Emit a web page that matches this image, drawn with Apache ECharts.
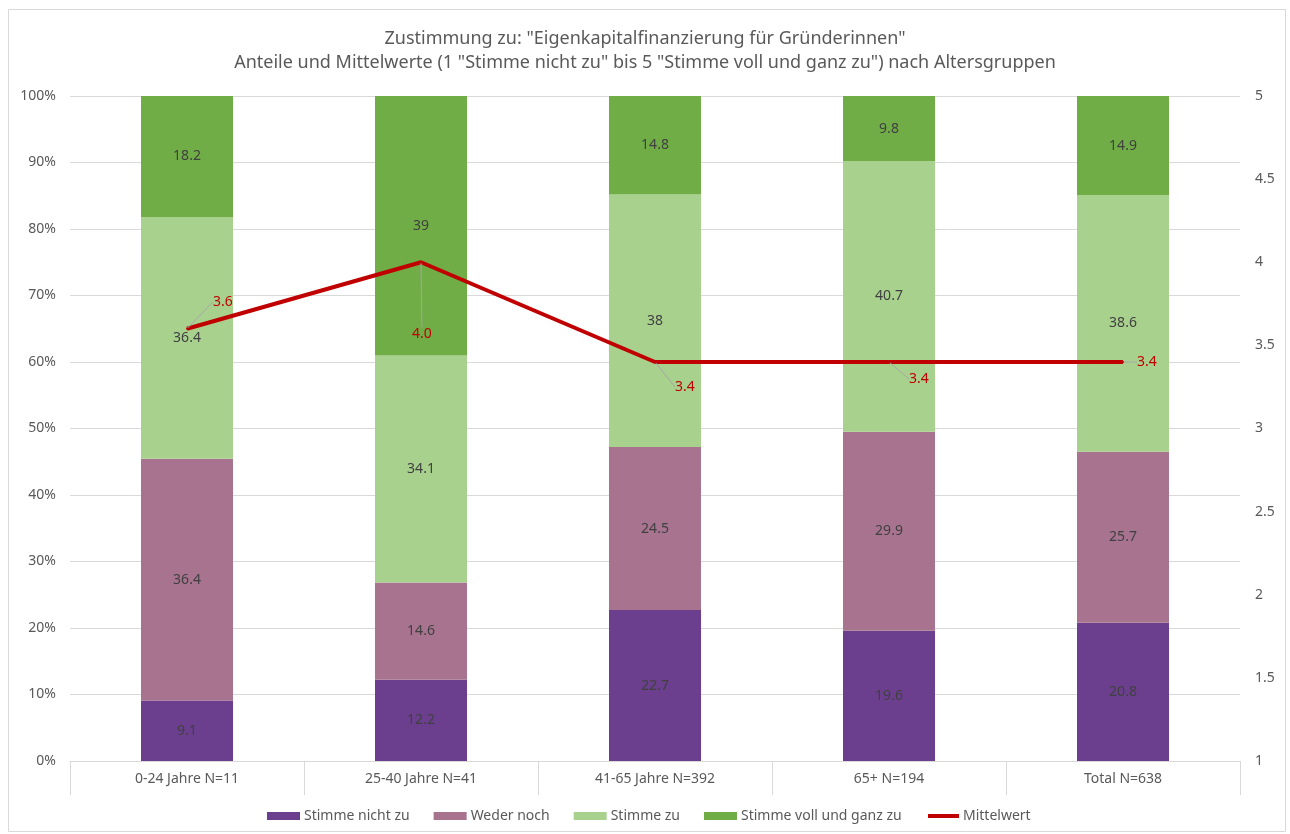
<!DOCTYPE html>
<html>
<head>
<meta charset="utf-8">
<script src="https://cdn.jsdelivr.net/npm/echarts@6/dist/echarts.min.js"></script>
<style>
html,body{margin:0;padding:0;background:#fff;}
#chart{width:1290px;height:834px;}
</style>
</head>
<body>
<div id="chart"></div>
<script>
const categories = ['0-24 Jahre N=11', '25-40 Jahre N=41', '41-65 Jahre N=392', '65+ N=194', 'Total N=638'];
const stimmeNichtZu = [9.1, 12.2, 22.7, 19.6, 20.8];
const wederNoch = [36.4, 14.6, 24.5, 29.9, 25.7];
const stimmeZu = [36.4, 34.1, 38, 40.7, 38.6];
const stimmeVollUndGanzZu = [18.2, 39, 14.8, 9.8, 14.9];
const mittelwert = [3.6, 4.0, 3.4, 3.4, 3.4];
const leftTicks = [0, 10, 20, 30, 40, 50, 60, 70, 80, 90, 100];
const rightTicks = [1, 1.5, 2, 2.5, 3, 3.5, 4, 4.5, 5];

const FONT = 'Noto Sans';
const GRAY = '#595959';
const labelShift = [[20, -27], [-15, 72], [14, 25], [14, 17], [8, 0]];

// 100% stacked: each column's shares are scaled so that the column sums to 100 (as in the original)
const totals = categories.map((_, i) => stimmeNichtZu[i] + wederNoch[i] + stimmeZu[i] + stimmeVollUndGanzZu[i]);

const chart = echarts.init(document.getElementById('chart'));

function barSeries(name, raw, color) {
  return {
    name: name, type: 'bar', stack: 'total', barWidth: 92,
    data: raw.map((v, i) => ({ value: v * 100 / totals[i], raw: v })),
    itemStyle: { color: color },
    label: {
      show: true, position: 'inside', color: '#404040', fontFamily: FONT, fontSize: 14,
      formatter: p => String(p.data.raw)
    },
    emphasis: { disabled: true }
  };
}

const legendText = { fontFamily: FONT, fontSize: 14, color: GRAY, padding: [0, 0, 0, -1] };

chart.setOption({
  animation: false,
  backgroundColor: '#fff',
  textStyle: { fontFamily: FONT },
  title: {
    text: 'Zustimmung zu: "Eigenkapitalfinanzierung für Gründerinnen"\nAnteile und Mittelwerte (1 "Stimme nicht zu" bis 5 "Stimme voll und ganz zu") nach Altersgruppen',
    left: 'center', top: 22,
    textStyle: { fontFamily: FONT, fontSize: 18, fontWeight: 'normal', color: GRAY, lineHeight: 24 }
  },
  graphic: [{
    type: 'rect', shape: { x: 8.5, y: 9.5, width: 1277, height: 822 },
    style: { fill: 'none', stroke: '#D9D9D9', lineWidth: 1 }, silent: true
  }],
  legend: [{
    data: ['Stimme nicht zu', 'Weder noch', 'Stimme zu', 'Stimme voll und ganz zu'],
    icon: 'rect', left: 267, top: 809, padding: 0,
    itemWidth: 33, itemHeight: 8, itemGap: 24, textStyle: legendText
  }, {
    data: ['Mittelwert'],
    icon: 'rect', left: 928, top: 809, padding: 0,
    itemWidth: 31, itemHeight: 4, textStyle: legendText
  }],
  grid: { left: 70, right: 50, top: 96, bottom: 73 },
  xAxis: {
    type: 'category', data: categories, boundaryGap: true,
    axisLine: { lineStyle: { color: '#D9D9D9' } },
    axisTick: { show: true, length: 34, interval: 0, lineStyle: { color: '#D9D9D9' } },
    axisLabel: { color: GRAY, fontFamily: FONT, fontSize: 14, margin: 11 }
  },
  yAxis: [{
    type: 'value', min: leftTicks[0], max: leftTicks[leftTicks.length - 1], interval: 10,
    axisLabel: { formatter: '{value}%', color: GRAY, fontFamily: FONT, fontSize: 14, margin: 14 },
    axisLine: { show: false }, axisTick: { show: false },
    splitLine: { lineStyle: { color: '#D9D9D9' } }
  }, {
    type: 'value', min: rightTicks[0], max: rightTicks[rightTicks.length - 1], interval: 0.5,
    axisLabel: { color: GRAY, fontFamily: FONT, fontSize: 14, margin: 15 },
    axisLine: { show: false }, axisTick: { show: false }, splitLine: { show: false }
  }],
  series: [
    barSeries('Stimme nicht zu', stimmeNichtZu, '#6B3F8E'),
    barSeries('Weder noch', wederNoch, '#A8738F'),
    barSeries('Stimme zu', stimmeZu, '#A9D18E'),
    barSeries('Stimme voll und ganz zu', stimmeVollUndGanzZu, '#70AD47'),
    {
      name: 'Mittelwert', type: 'line', yAxisIndex: 1, data: mittelwert,
      symbol: 'circle', symbolSize: 2, showSymbol: true,
      lineStyle: { color: '#C00000', width: 4 },
      itemStyle: { color: '#C00000' },
      label: {
        show: true, position: 'right', distance: 5, color: '#C00000', fontFamily: FONT, fontSize: 14,
        formatter: p => p.value.toFixed(1)
      },
      labelLine: { show: true, lineStyle: { color: '#A6A6A6', width: 1 } },
      labelLayout: p => ({ dx: labelShift[p.dataIndex][0], dy: labelShift[p.dataIndex][1] }),
      emphasis: { disabled: true },
      z: 5
    }
  ]
});
</script>
</body>
</html>
